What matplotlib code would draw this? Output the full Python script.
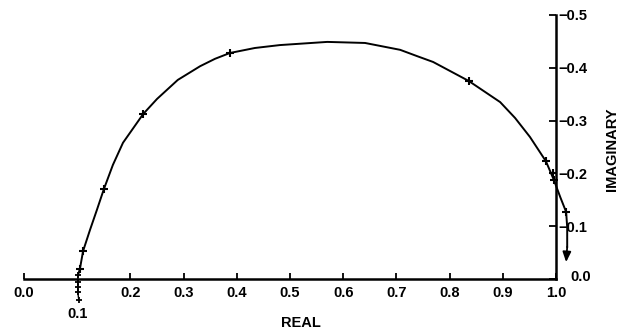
import numpy as np
import matplotlib.pyplot as plt

plt.rcParams['font.family'] = ['Liberation Sans', 'DejaVu Sans']

# locus (real part, imaginary part)
curve_re = [0.1015, 0.105, 0.111, 0.124, 0.137, 0.150, 0.167, 0.186, 0.224, 0.250,
            0.289, 0.331, 0.359, 0.387, 0.434, 0.481, 0.570, 0.641, 0.707, 0.739,
            0.769, 0.836, 0.895, 0.923, 0.951, 0.981, 0.996, 1.008, 1.019, 1.021,
            1.021]
curve_im = [-0.0076, -0.019, -0.053, -0.093, -0.131, -0.170, -0.216, -0.258, -0.3125, -0.341,
            -0.377, -0.403, -0.417, -0.428, -0.4375, -0.443, -0.449, -0.447, -0.434, -0.422,
            -0.411, -0.375, -0.335, -0.305, -0.269, -0.223, -0.1875, -0.155, -0.127, -0.098,
            -0.061]

# short marked stretch below the real axis near 0.1
low_re = [0.103, 0.101, 0.101, 0.101, 0.1015]
low_im = [0.040, 0.025, 0.015, 0.006, -0.0076]

# marked points on the locus
mark_re = [0.105, 0.111, 0.150, 0.224, 0.387, 0.836, 0.981, 0.994, 0.996, 1.019]
mark_im = [-0.019, -0.053, -0.170, -0.3125, -0.428, -0.375, -0.223, -0.200, -0.1875, -0.127]

# end of the arrow
end_re, end_im = 1.019, -0.032

x_ticks = [0.0, 0.2, 0.3, 0.4, 0.5, 0.6, 0.7, 0.8, 0.9, 1.0]
y_ticks = [0.0, -0.1, -0.2, -0.3, -0.4, -0.5]

fig = plt.figure(figsize=(6.26, 3.32), dpi=100)
ax = fig.add_axes([0.0214, 0.0642, 0.9348, 0.9225])
ax.set_xlim(-0.02, 1.08)
ax.set_ylim(0.06, -0.52)

ax.plot(curve_re, curve_im, color='black', lw=1.4, solid_joinstyle='round')
ax.plot(low_re, low_im, color='black', lw=1.0, marker='+', ms=5, mew=1.3)
ax.plot(mark_re, mark_im, ls='none', color='black', marker='+', ms=6, mew=1.5)
ax.annotate('', xy=(end_re, end_im), xytext=(curve_re[-1], curve_im[-1]),
            arrowprops=dict(arrowstyle='-|>,head_width=0.25,head_length=0.6',
                            color='black', lw=1.3, mutation_scale=10,
                            shrinkA=0, shrinkB=0))

for s in ['left', 'top']:
    ax.spines[s].set_visible(False)
ax.spines['bottom'].set_position(('data', 0.0))
ax.spines['bottom'].set_bounds(0.0, 1.0)
ax.spines['right'].set_position(('data', 1.0))
ax.spines['right'].set_bounds(0.0, -0.5)
ax.spines['bottom'].set_linewidth(1.8)
ax.spines['right'].set_linewidth(1.8)

ax.set_xticks(x_ticks)
ax.set_xticklabels(['%.1f' % v for v in x_ticks])
ax.tick_params(axis='x', direction='in', length=4, width=1.3, pad=5,
               labelsize=10.5)
ax.yaxis.tick_right()
ax.set_yticks(y_ticks)
ax.set_yticklabels([''] + ['\u2212%.1f' % abs(v) for v in y_ticks[1:]])
ax.tick_params(axis='y', direction='in', length=5, width=1.3, pad=2,
               labelsize=10.5)
for lab in ax.get_xticklabels() + ax.get_yticklabels():
    lab.set_fontweight('bold')

ax.text(1.027, -0.003, '0.0', ha='left', va='center', fontsize=10.5,
        fontweight='bold')
ax.text(0.1, 0.066, '0.1', ha='center', va='center', fontsize=10.5,
        fontweight='bold')
ax.text(0.52, 0.083, 'REAL', ha='center', va='center', fontsize=10.5,
        fontweight='bold')
fig.text(0.978, 0.55, 'IMAGINARY', rotation=90, ha='center', va='center',
         fontsize=10.5, fontweight='bold')

fig.savefig('out.png', dpi=100)
